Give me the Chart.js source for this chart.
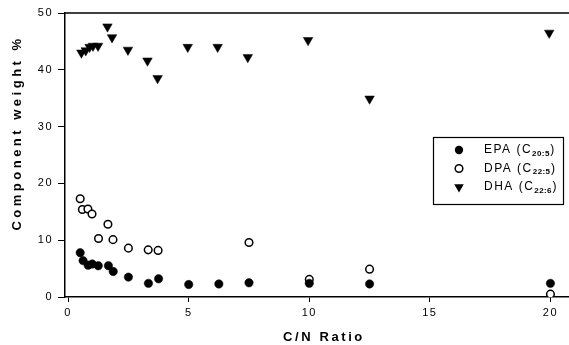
<!DOCTYPE html>
<html><head><meta charset="utf-8">
<script src="https://cdn.jsdelivr.net/npm/chart.js@4"></script>
<style>html,body{margin:0;padding:0;background:#fff;} #wrap{width:569px;height:345px;position:relative;}</style>
</head><body><div id="wrap"><canvas id="c" width="569" height="345"></canvas></div>
<script>
// Data
const epaX = [0.5, 0.62, 0.83, 1.0, 1.25, 1.67, 1.87, 2.5, 3.33, 3.75, 5, 6.25, 7.5, 10, 12.5, 20];
const epaY = [7.8, 6.4, 5.6, 5.8, 5.5, 5.5, 4.5, 3.5, 2.4, 3.2, 2.2, 2.3, 2.5, 2.4, 2.3, 2.4];
const dpaX = [0.5, 0.59, 0.82, 0.99, 1.26, 1.65, 1.86, 2.5, 3.32, 3.73, 7.5, 10, 12.5, 20];
const dpaY = [17.3, 15.4, 15.5, 14.6, 10.3, 12.8, 10.1, 8.6, 8.3, 8.2, 9.6, 3.1, 4.9, 0.5];
const dhaX = [0.55, 0.73, 0.89, 1.03, 1.24, 1.63, 1.82, 2.48, 3.29, 3.71, 4.96, 6.2, 7.45, 9.95, 12.5, 19.95];
const dhaY = [43.0, 43.4, 44.0, 44.2, 44.2, 47.6, 45.7, 43.5, 41.6, 38.5, 44.0, 44.0, 42.2, 45.2, 34.9, 46.5];
const xTicks = [0, 5, 10, 15, 20];
const yTicks = [0, 10, 20, 30, 40, 50];
const xTitle = "C/N Ratio";
const yTitle = "Component weight %";
const legendItems = [
  ["EPA (C", "20:5", ")"],
  ["DPA (C", "22:5", ")"],
  ["DHA (C", "22:6", ")"]
];
const FONT = '"Liberation Sans", Arial, Helvetica, sans-serif';

const toPts = (xs, ys) => xs.map((x, i) => ({x: x, y: ys[i]}));

function drawMarker(ctx, kind, x, y) {
  ctx.save();
  ctx.strokeStyle = '#000';
  ctx.fillStyle = '#000';
  if (kind === 0) {
    ctx.beginPath(); ctx.arc(x, y, 4.2, 0, Math.PI * 2); ctx.fill();
  } else if (kind === 1) {
    ctx.lineWidth = 1.5; ctx.fillStyle = '#fff';
    ctx.beginPath(); ctx.arc(x, y, 3.8, 0, Math.PI * 2); ctx.fill(); ctx.stroke();
  } else {
    const r = 5.5;
    ctx.beginPath();
    ctx.moveTo(x, y + r);
    ctx.lineTo(x - r * 0.866, y - r / 2);
    ctx.lineTo(x + r * 0.866, y - r / 2);
    ctx.closePath(); ctx.fill();
  }
  ctx.restore();
}

const decor = {
  id: 'decor',
  beforeDraw(chart) { chart.ctx.letterSpacing = '1.5px'; },
  afterDraw(chart) {
    const ctx = chart.ctx, a = chart.chartArea;
    ctx.save();
    ctx.letterSpacing = '0px';
    ctx.strokeStyle = '#000';
    ctx.lineWidth = 1.5;
    ctx.beginPath(); ctx.moveTo(a.left, a.top); ctx.lineTo(chart.width, a.top); ctx.stroke();
    ctx.fillStyle = '#000';
    // y title
    ctx.save();
    ctx.font = 'bold 13px ' + FONT;
    ctx.letterSpacing = '3.5px';
    ctx.translate(17, 133);
    ctx.rotate(-Math.PI / 2);
    ctx.textAlign = 'center'; ctx.textBaseline = 'middle';
    ctx.fillText(yTitle, 0, 0);
    ctx.restore();
    // x title
    ctx.save();
    ctx.font = 'bold 13px ' + FONT;
    ctx.letterSpacing = '2.6px';
    ctx.textAlign = 'left'; ctx.textBaseline = 'middle';
    ctx.fillText(xTitle, 283, 337);
    ctx.restore();
    // legend box
    ctx.lineWidth = 1.2;
    ctx.strokeRect(433.5, 137.5, 130, 67);
    const rows = [150, 168.5, 187];
    legendItems.forEach((it, i) => {
      const y = rows[i];
      drawMarker(ctx, i, 459, y);
      ctx.save();
      ctx.fillStyle = '#000';
      ctx.textBaseline = 'middle'; ctx.textAlign = 'left';
      ctx.font = '12px ' + FONT; ctx.letterSpacing = '1.5px';
      let x = 484;
      ctx.fillText(it[0], x, y); x += ctx.measureText(it[0]).width;
      ctx.font = 'bold 8px ' + FONT; ctx.letterSpacing = '0.4px';
      ctx.fillText(it[1], x, y + 3.5); x += ctx.measureText(it[1]).width + 0.5;
      ctx.font = '12px ' + FONT; ctx.letterSpacing = '1.5px';
      ctx.fillText(it[2], x, y);
      ctx.restore();
    });
    ctx.restore();
  }
};

new Chart(document.getElementById('c'), {
  type: 'scatter',
  data: {
    datasets: [
      {label: 'EPA', data: toPts(epaX, epaY), pointStyle: 'circle', pointRadius: 4.2,
       backgroundColor: '#000', borderColor: '#000', borderWidth: 0.5},
      {label: 'DPA', data: toPts(dpaX, dpaY), pointStyle: 'circle', pointRadius: 3.8,
       backgroundColor: '#fff', borderColor: '#000', borderWidth: 1.5},
      {label: 'DHA', data: toPts(dhaX, dhaY), pointStyle: 'triangle', rotation: 180, pointRadius: 5.5,
       backgroundColor: '#000', borderColor: '#000', borderWidth: 0.5}
    ]
  },
  options: {
    responsive: false,
    animation: false,
    layout: {autoPadding: false, padding: {top: 13, right: 0, left: 0, bottom: 0}},
    plugins: {legend: {display: false}, tooltip: {enabled: false}},
    scales: {
      x: {
        type: 'linear', min: -0.13, max: 20.77,
        afterBuildTicks: s => { s.ticks = xTicks.map(v => ({value: v})); },
        afterFit: s => { s.height = 48; s.paddingLeft = 0; s.paddingRight = 0; },
        grid: {drawOnChartArea: false, tickLength: 5, color: '#000', tickWidth: 1},
        border: {color: '#000', width: 1.5},
        ticks: {color: '#000', font: {size: 11, family: FONT}, padding: 4, maxRotation: 0}
      },
      y: {
        type: 'linear', min: 0, max: 50,
        afterBuildTicks: s => { s.ticks = yTicks.map(v => ({value: v})); },
        afterFit: s => { s.width = 65; s.paddingTop = 0; s.paddingBottom = 0; },
        grid: {drawOnChartArea: false, tickLength: 7, color: '#000', tickWidth: 1},
        border: {color: '#000', width: 1.5},
        ticks: {color: '#000', font: {size: 11, family: FONT}, padding: 5}
      }
    }
  },
  plugins: [decor]
});
</script>
</body></html>
